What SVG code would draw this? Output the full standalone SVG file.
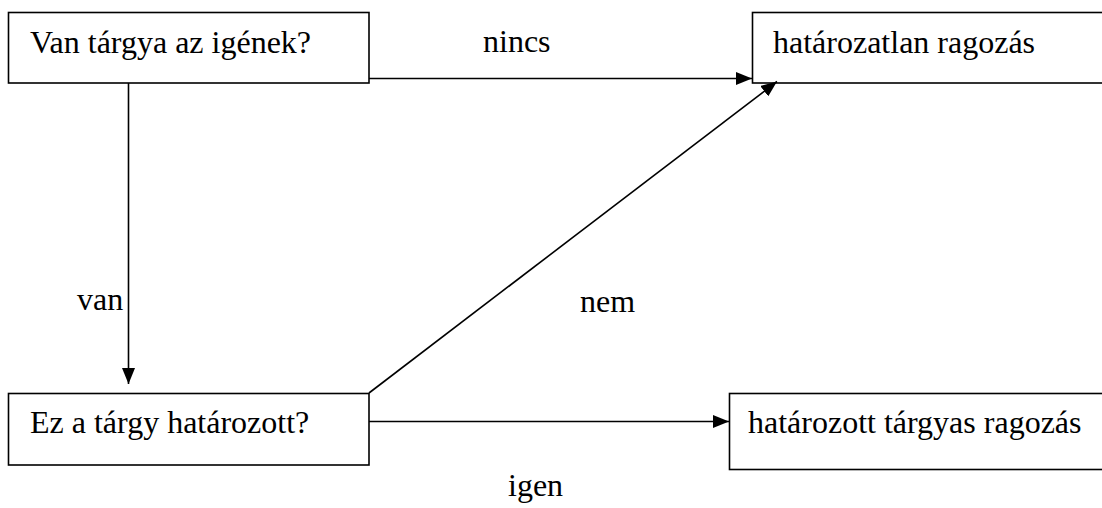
<svg xmlns="http://www.w3.org/2000/svg" width="1102" height="508" viewBox="0 0 1102 508">
<style>
.box{fill:#fff;stroke:#000;stroke-width:1.6}
.t{font-family:'Liberation Serif',Tinos,'Times New Roman',Times,'DejaVu Serif',serif;font-size:32px;fill:#000}
.c{stroke:#000;stroke-width:1.6;fill:none}
</style>
<defs>
<marker id="ah" markerWidth="16" markerHeight="13" refX="16" refY="6.5" orient="auto" markerUnits="userSpaceOnUse">
<path d="M0,0 L16,6.5 L0,13 Z" fill="#000"/>
</marker>
</defs>
<rect width="1102" height="508" fill="#fff"/>
<g id="n1"><rect class="box" x="8.5" y="12.5" width="360.5" height="70.5"/><text class="t" x="30" y="53">Van tárgya az igének?</text></g>
<g id="n2"><rect class="box" x="752.5" y="12.5" width="360" height="70.5"/><text class="t" x="773" y="53">határozatlan ragozás</text></g>
<g id="n3"><rect class="box" x="8.5" y="393.5" width="360.5" height="71.5"/><text class="t" x="30" y="433">Ez a tárgy határozott?</text></g>
<g id="n4"><rect class="box" x="729.5" y="393.5" width="380" height="76"/><text class="t" x="748" y="433">határozott tárgyas ragozás</text></g>
<g id="connectors">
<line class="c" x1="369" y1="78.5" x2="752" y2="78.5" marker-end="url(#ah)"/>
<line class="c" x1="128.5" y1="83" x2="128.5" y2="384" marker-end="url(#ah)"/>
<line class="c" x1="369" y1="393" x2="777" y2="81.5" marker-end="url(#ah)"/>
<line class="c" x1="369" y1="421.5" x2="729" y2="421.5" marker-end="url(#ah)"/>
<text class="t" x="483" y="52">nincs</text>
<text class="t" x="77" y="310">van</text>
<text class="t" x="580" y="312">nem</text>
<text class="t" x="508" y="496">igen</text>
</g>
</svg>
